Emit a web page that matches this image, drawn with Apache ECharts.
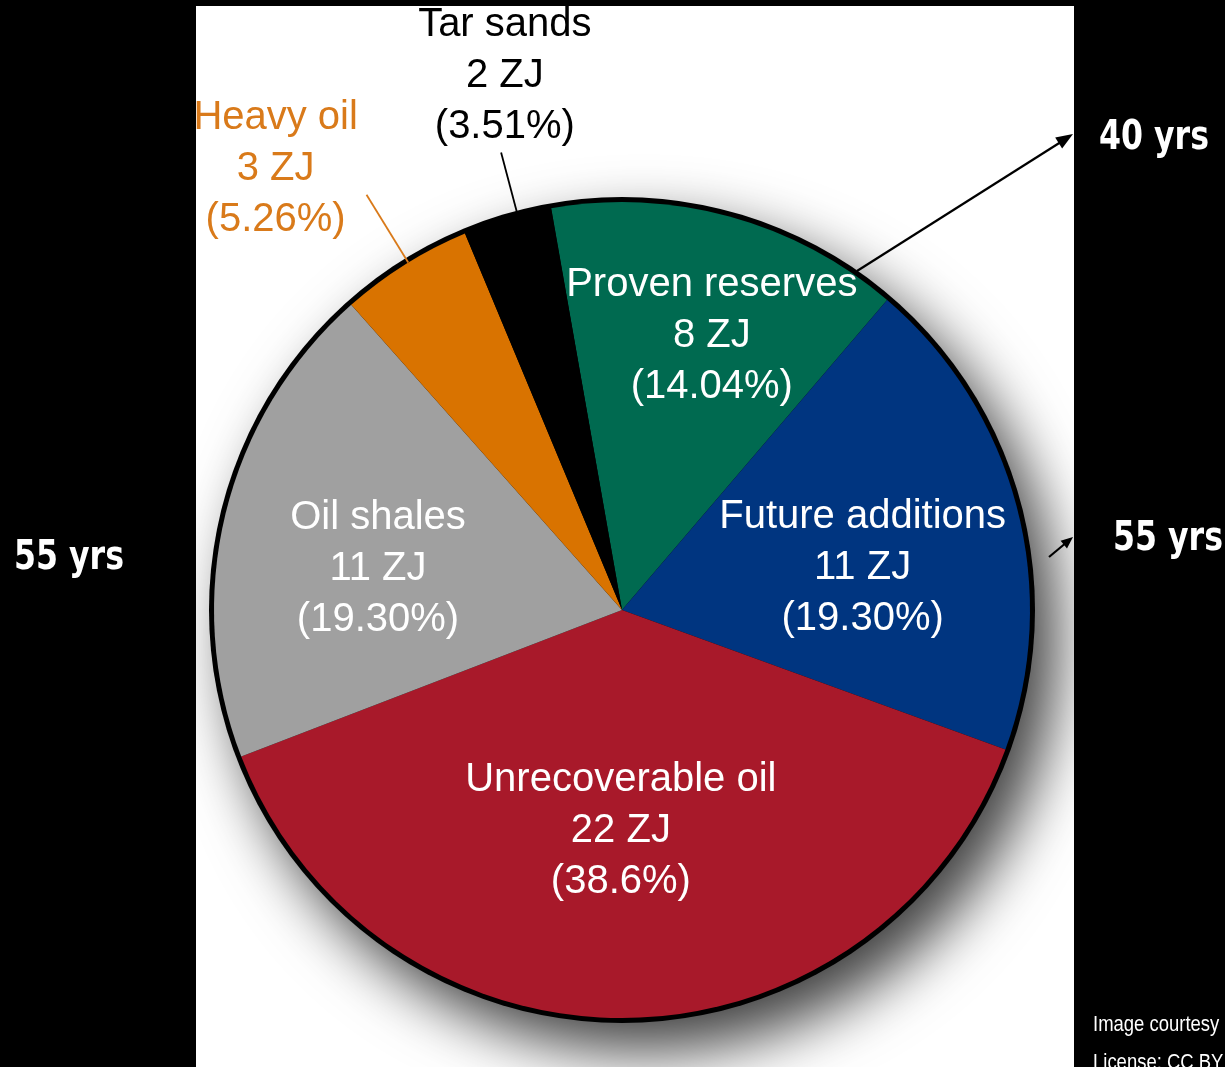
<!DOCTYPE html>
<html>
<head>
<meta charset="utf-8">
<title>World oil resources</title>
<script src="https://cdn.jsdelivr.net/npm/echarts@6/dist/echarts.min.js"></script>
<style>
  html, body { margin: 0; padding: 0; background: #000; }
  #chart { width: 1225px; height: 1067px; }
</style>
</head>
<body>
<div id="chart"></div>
<script>
// Oil resource categories, listed clockwise from just left of 12 o'clock
const categories = ['Proven reserves', 'Future additions', 'Unrecoverable oil', 'Oil shales', 'Heavy oil', 'Tar sands'];
// Energy content of each category, in zettajoules
const energyZJ = [8, 11, 22, 11, 3, 2];
// Share of the total as printed under each category
const shareText = ['14.04%', '19.30%', '38.6%', '19.30%', '5.26%', '3.51%'];

// Styling
const sliceColors = ['#006a50', '#003580', '#a8192a', '#a0a0a0', '#d97300', '#000000'];
const labelColors = ['#ffffff', '#ffffff', '#ffffff', '#ffffff', '#d97a1a', '#000000'];

// Pie geometry
const CX = 622, CY = 610, R = 408, START = 100;

// Label anchors in polar form: angle clockwise from 12 o'clock, distance as a fraction of R.
// Outside labels also carry a radial leader [angle, from, to].
const labelPlacement = [
  { a: 17.9, r: 0.716 },
  { a: 79.4, r: 0.600 },
  { a: 180.3, r: 0.534 },
  { a: 280.4, r: 0.608 },
  { a: 322.1, r: 1.382, lead: [328.4, 1.0, 1.195] },
  { a: 347.7, r: 1.348, lead: [345.2, 1.0, 1.16] }
];
const LABEL_DY = 3.5;

function polar(angleDeg, dist) {
  const t = angleDeg * Math.PI / 180;
  return [CX + dist * Math.sin(t), CY - dist * Math.cos(t)];
}

const outside = [false, false, false, false, true, true];

const pieData = categories.map((name, i) => ({
  name: name,
  value: energyZJ[i],
  itemStyle: { color: sliceColors[i] },
  label: {
    position: outside[i] ? 'outside' : 'inside',
    color: labelColors[i]
  },
  labelLine: {
    show: outside[i],
    lineStyle: { color: labelColors[i], width: 1.8 }
  }
}));

const chart = echarts.init(document.getElementById('chart'), null, { renderer: 'canvas' });

function arrowHead(tip, from, len, half) {
  const dx = tip[0] - from[0], dy = tip[1] - from[1];
  const d = Math.hypot(dx, dy);
  const ux = dx / d, uy = dy / d;
  const bx = tip[0] - ux * len, by = tip[1] - uy * len;
  return [tip, [bx - uy * half, by + ux * half], [bx + uy * half, by - ux * half]];
}

const arrow40From = [857, 271], arrow40To = [1073, 134];
const arrow55From = [1049, 557], arrow55To = [1073, 537];

const yrsFont = 'bold 40px "DejaVu Sans", sans-serif';
const noteFont = '22px "Liberation Sans", Arial, sans-serif';

// narrow annotation text: anchored at its left/middle and squeezed horizontally
function note(x, y, text, font, sx) {
  return {
    type: 'text', z: 20, x: x, y: y, scaleX: sx, scaleY: 1,
    style: { text: text, font: font, fill: '#fff', align: 'left', verticalAlign: 'middle' }
  };
}

chart.setOption({
  backgroundColor: '#000',
  animation: false,
  graphic: [
    { type: 'rect', z: 0, silent: true, shape: { x: 196, y: 6, width: 878, height: 1061 }, style: { fill: '#ffffff' } },
    { type: 'line', z: 20, shape: { x1: arrow40From[0], y1: arrow40From[1], x2: arrow40To[0] - 9, y2: arrow40To[1] + 6 },
      style: { stroke: '#000', lineWidth: 2.2 } },
    { type: 'polygon', z: 20, shape: { points: arrowHead(arrow40To, arrow40From, 17, 6.5) }, style: { fill: '#000' } },
    { type: 'line', z: 20, shape: { x1: arrow55From[0], y1: arrow55From[1], x2: arrow55To[0] - 6, y2: arrow55To[1] + 5 },
      style: { stroke: '#000', lineWidth: 2.2 } },
    { type: 'polygon', z: 20, shape: { points: arrowHead(arrow55To, arrow55From, 12, 5) }, style: { fill: '#000' } },
    note(1099, 139, '40 yrs', yrsFont, 0.79),
    note(1113, 540, '55 yrs', yrsFont, 0.79),
    note(14, 559, '55 yrs', yrsFont, 0.79),
    note(1093, 1025, 'Image courtesy', noteFont, 0.84),
    note(1093, 1063, 'License: CC BY', noteFont, 0.84)
  ],
  series: [
    {
      // dark disc behind the slices: gives the outer rim and the drop shadow
      type: 'pie',
      z: 2,
      silent: true,
      center: [CX, CY],
      radius: R + 5,
      label: { show: false },
      labelLine: { show: false },
      data: [{
        value: 1,
        itemStyle: {
          color: '#000',
          shadowBlur: 60,
          shadowOffsetX: 22,
          shadowOffsetY: 28,
          shadowColor: 'rgba(0,0,0,0.75)'
        }
      }]
    },
    {
      type: 'pie',
      z: 3,
      silent: true,
      center: [CX, CY],
      radius: R,
      startAngle: START,
      clockwise: true,
      avoidLabelOverlap: false,
      minAngle: 0,
      itemStyle: { borderWidth: 0 },
      emphasis: { disabled: true },
      label: {
        show: true,
        fontFamily: '"Liberation Sans", Arial, Helvetica, sans-serif',
        fontSize: 40,
        lineHeight: 51,
        align: 'center',
        overflow: 'none',
        formatter: p => p.name + '\n' + p.value + ' ZJ\n(' + shareText[p.dataIndex] + ')'
      },
      labelLayout: function (params) {
        const spot = labelPlacement[params.dataIndex];
        const pos = polar(spot.a, spot.r * R);
        const res = { x: pos[0], y: pos[1] + LABEL_DY, align: 'center', verticalAlign: 'middle' };
        if (spot.lead) {
          const p1 = polar(spot.lead[0], spot.lead[1] * R);
          const p2 = polar(spot.lead[0], spot.lead[2] * R);
          res.labelLinePoints = [p1, p2, p2];
        }
        return res;
      },
      data: pieData
    }
  ]
});
</script>
</body>
</html>
